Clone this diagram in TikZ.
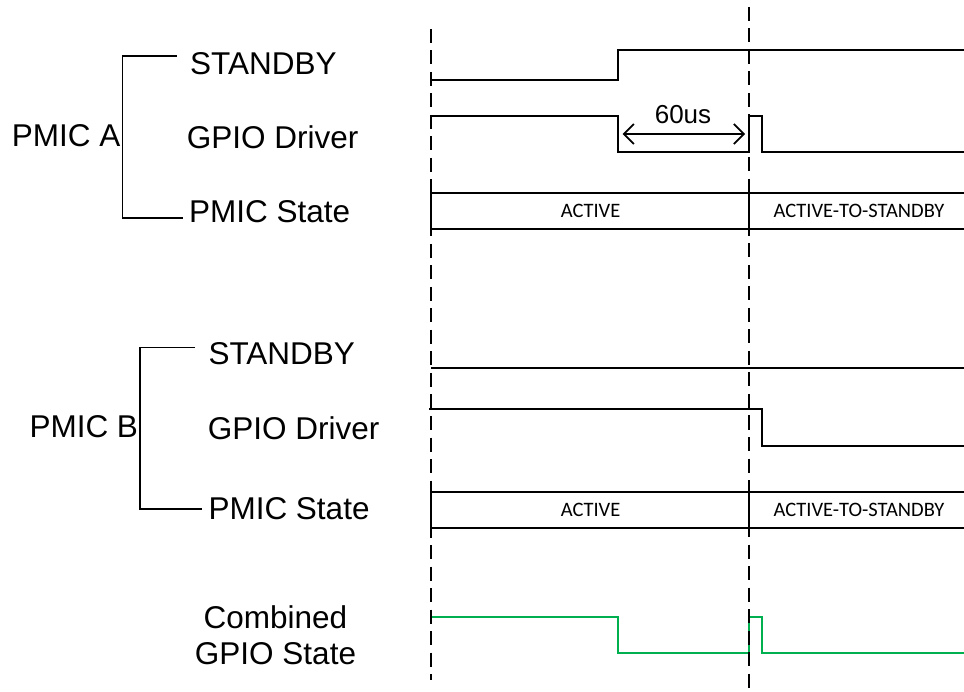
\documentclass[tikz,border=0pt]{standalone}
\usepackage{fontspec}
\setmainfont{Liberation Sans}
\newfontfamily\calfont{Carlito}
\usetikzlibrary{arrows.meta}
\definecolor{sigGreen}{RGB}{0,176,80}
\begin{document}
\begin{tikzpicture}[x=1pt,y=-1pt,
  lbl/.style={inner sep=0pt,anchor=west,font=\fontsize{31.5}{36}\selectfont},
  sml/.style={inner sep=0pt,font=\calfont\fontsize{20.5}{24}\selectfont},
  wave/.style={line width=2pt,line join=miter},
  gwave/.style={line width=2pt,draw=sigGreen},
  mark line/.style={line width=2pt,dash pattern=on 14pt off 7.5pt},
  brk/.style={line width=1.5pt}]
\useasboundingbox (0,0) rectangle (964,692);
\fill[white] (0,0) rectangle (964,692);

% ---- left labels ----
\node[lbl] (pmicA) at (11.7,136) {PMIC A};
\node[lbl] (sbA)   at (190,63.3) {STANDBY};
\node[lbl] (gdA)   at (186.7,137.3) {GPIO Driver};
\node[lbl] (psA)   at (189,211.7) {PMIC State};
\node[lbl] (pmicB) at (29.3,426.7) {PMIC B};
\node[lbl] (sbB)   at (208.3,353.3) {STANDBY};
\node[lbl] (gdB)   at (207.7,428.3) {GPIO Driver};
\node[lbl] (psB)   at (208.3,508.3) {PMIC State};
\node[inner sep=0pt,align=center,font=\fontsize{31.5}{36}\selectfont] (comb) at (275.5,635.3) {Combined\\GPIO State};

% ---- brackets ----
\coordinate (aTop) at (176.7,56);
\coordinate (aBot) at (182.7,218);
\coordinate (aBar) at (122.3,0);
\draw[brk] (aTop) -| (aBar |- aBot) -- (aBot);
\coordinate (bTop) at (195,347.3);
\coordinate (bBot) at (201.7,509);
\coordinate (bBar) at (140,0);
\draw[brk] (bTop) -| (bBar |- bBot) -- (bBot);

% ---- combined (under the markers) ----
\draw[gwave] (431,617) -- (618,617) -- (618,653) -- (749,653)
  -- (749,617) -- (762,617) -- (762,653) -- (964,653);

% ---- time markers ----
\coordinate (mA1) at (431,29);
\coordinate (mA2) at (431,680);
\coordinate (mB1) at (749,7);
\coordinate (mB2) at (749,692);
\draw[mark line] (mA1) -- (mA2);
\draw[mark line] (mB1) -- (mB2);

% ---- PMIC A ----
\draw[wave] (431,80) -- (618,80) -- (618,50) -- (964,50);
\draw[wave] (431,116) -- (618,116) -- (618,152) -- (749,152)
  -- (749,116) -- (762,116) -- (762,152) -- (964,152);
\draw[wave] (964,193) -- (431,193) -- (431,229) -- (964,229);
\draw[wave] (749,193) -- (749,229);
\node[sml] (actA) at (590.6,210.7) {ACTIVE};
\node[sml] (atsA) at (859,210.7) {ACTIVE-TO-STANDBY};
\coordinate (arL) at (622.7,134);
\coordinate (arR) at (745,134);
\draw[line width=1.7pt,{Straight Barb[length=10pt,width=20pt]}-{Straight Barb[length=10pt,width=20pt]}] (arL) -- (arR);
\node[inner sep=0pt,font=\fontsize{26}{30}\selectfont] (dt) at (683,114.7) {60us};

% ---- PMIC B ----
\draw[wave] (431,368) -- (964,368);
\draw[wave] (429,409) -- (762,409) -- (762,446) -- (964,446);
\draw[wave] (964,492) -- (431,492) -- (431,528) -- (964,528);
\draw[wave] (749,492) -- (749,528);
\node[sml] (actB) at (590.6,509.5) {ACTIVE};
\node[sml] (atsB) at (859,509.5) {ACTIVE-TO-STANDBY};
\end{tikzpicture}
\end{document}
